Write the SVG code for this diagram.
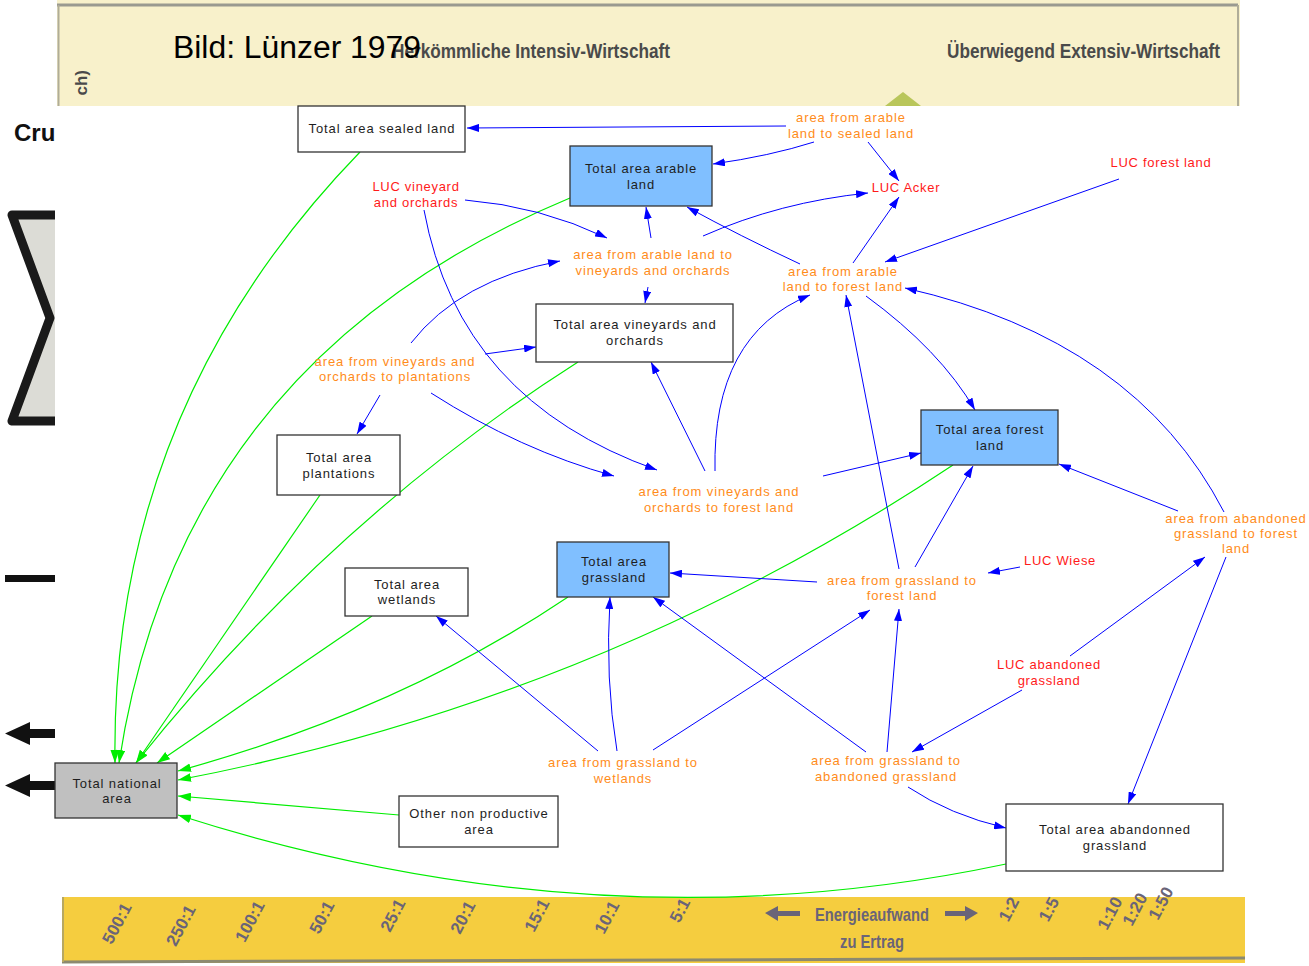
<svg xmlns="http://www.w3.org/2000/svg" width="1309" height="966" viewBox="0 0 1309 966">
<style>
.bx{stroke:#333;stroke-width:1.3}
.w{fill:#fff}.b{fill:#80bfff}.g{fill:#c0c0c0}
text{font-family:"Liberation Sans",Arial,sans-serif}
.nt{font-size:13px;fill:#1e1e1e;letter-spacing:0.9px;text-anchor:middle}
.ot{font-size:13px;fill:#ff8c1a;letter-spacing:0.9px;text-anchor:middle}
.rt{font-size:13px;fill:#ff1a1a;letter-spacing:0.7px;text-anchor:middle}
.eb{fill:none;stroke:#0000ff;stroke-width:1}
.eg{fill:none;stroke:#00ee00;stroke-width:1.2}
.bg{font-weight:bold;fill:#4a4a4a}
.ax{font-size:17px;font-weight:bold;fill:#6a6478;text-anchor:middle}
</style>
<defs>
<marker id="ab" viewBox="0 0 12 8" refX="12" refY="4" markerWidth="12" markerHeight="8" orient="auto" markerUnits="userSpaceOnUse"><path d="M0,0 L12,4 L0,8 z" fill="#0000ff"/></marker>
<marker id="ag" viewBox="0 0 12 8" refX="12" refY="4" markerWidth="13" markerHeight="9" orient="auto" markerUnits="userSpaceOnUse"><path d="M0,0 L12,4 L0,8 z" fill="#00ee00"/></marker>
</defs>
<rect x="0" y="0" width="1309" height="966" fill="#fff"/>
<g id="background">
<rect x="57" y="0" width="1183" height="106" fill="#f8f1cb"/>
<line x1="57" y1="5" x2="1238" y2="5" stroke="#9a9a90" stroke-width="3"/>
<line x1="58.5" y1="5" x2="58.5" y2="106" stroke="#b0ad98" stroke-width="2"/>
<line x1="1238" y1="5" x2="1238" y2="106" stroke="#b0ad98" stroke-width="2"/>
<polygon points="885,106 903,92 921,106" fill="#b9c65a"/>
<text x="392" y="58" font-size="20" class="bg" textLength="278" lengthAdjust="spacingAndGlyphs">Herkömmliche Intensiv-Wirtschaft</text>
<text x="947" y="58" font-size="20" class="bg" textLength="273" lengthAdjust="spacingAndGlyphs">Überwiegend Extensiv-Wirtschaft</text>
<text transform="translate(87,70) rotate(-90)" font-size="17" class="bg" text-anchor="end">ch)</text>
<text x="173" y="58" font-size="31" fill="#000" textLength="248" lengthAdjust="spacingAndGlyphs">Bild: Lünzer 1979</text>
<rect x="55" y="106" width="1254" height="791" fill="#fff"/>
<text x="14" y="141" font-size="24" font-weight="bold" fill="#111">Cru</text>
<path d="M55,215 L12,215 L50,318 L12,421 L55,421 Z" fill="#dcdcd6"/>
<path d="M55,215 L12,215 L50,318 L12,421 L55,421" fill="none" stroke="#1a1a1a" stroke-width="9" stroke-linejoin="round"/>
<rect x="5" y="575" width="50" height="7" fill="#111"/>
<path d="M55,729 L30,729 L30,722 L5,733.5 L30,745 L30,738 L55,738 Z" fill="#111"/>
<path d="M55,781 L30,781 L30,774 L5,785.5 L30,797 L30,790 L55,790 Z" fill="#111"/>
<rect x="62" y="897" width="1183" height="66" fill="#f5cd3f"/>
<line x1="62" y1="962" x2="1245" y2="958" stroke="#8c8a70" stroke-width="3"/>
<line x1="63" y1="897" x2="63" y2="962" stroke="#b8a860" stroke-width="2"/>
<g class="ax">
<text transform="translate(122,926) rotate(-62)">500:1</text>
<text transform="translate(186,928) rotate(-62)">250:1</text>
<text transform="translate(255,924) rotate(-62)">100:1</text>
<text transform="translate(327,920) rotate(-62)">50:1</text>
<text transform="translate(398,918) rotate(-62)">25:1</text>
<text transform="translate(468,920) rotate(-62)">20:1</text>
<text transform="translate(542,918) rotate(-62)">15:1</text>
<text transform="translate(612,920) rotate(-62)">10:1</text>
<text transform="translate(685,913) rotate(-62)">5:1</text>
<text transform="translate(1014,912) rotate(-62)">1:2</text>
<text transform="translate(1054,912) rotate(-62)">1:5</text>
<text transform="translate(1115,916) rotate(-62)">1:10</text>
<text transform="translate(1140,912) rotate(-62)">1:20</text>
<text transform="translate(1166,906) rotate(-62)">1:50</text>
</g>
<text x="815" y="921" font-size="19" class="bg" style="fill:#6a6478" textLength="114" lengthAdjust="spacingAndGlyphs">Energieaufwand</text>
<text x="840" y="948" font-size="19" class="bg" style="fill:#6a6478" textLength="64" lengthAdjust="spacingAndGlyphs">zu Ertrag</text>
<path d="M765,913 L778,906 L778,911 L800,911 L800,916 L778,916 L778,921 Z" fill="#6a6478"/>
<path d="M978,913 L965,906 L965,911 L945,911 L945,916 L965,916 L965,921 Z" fill="#6a6478"/>
</g>
<g id="connectors">
<path class="eg" marker-end="url(#ag)" d="M360,152 Q110,410 115,763"/>
<path class="eg" marker-end="url(#ag)" d="M570,198 Q180,360 119,763"/>
<path class="eg" marker-end="url(#ag)" d="M578,362 Q330,520 136,763"/>
<path class="eg" marker-end="url(#ag)" d="M320,495 L136,763"/>
<path class="eg" marker-end="url(#ag)" d="M372,616 L157,763"/>
<path class="eg" marker-end="url(#ag)" d="M568,597 Q400,710 178,771"/>
<path class="eg" marker-end="url(#ag)" d="M953,465 Q600,700 178,780"/>
<path class="eg" marker-end="url(#ag)" d="M399,815 L178,796"/>
<path class="eg" marker-end="url(#ag)" d="M1006,864 Q600,950 178,815"/>
<path class="eb" marker-end="url(#ab)" d="M786,126 L467,128"/>
<path class="eb" marker-end="url(#ab)" d="M814,142 Q770,156 713,164"/>
<path class="eb" marker-end="url(#ab)" d="M868,142 L899,181"/>
<path class="eb" marker-end="url(#ab)" d="M703,236 Q780,202 868,193"/>
<path class="eb" marker-end="url(#ab)" d="M651,238 L646,207"/>
<path class="eb" marker-end="url(#ab)" d="M800,264 Q740,236 687,207"/>
<path class="eb" marker-end="url(#ab)" d="M465,200 Q540,206 607,238"/>
<path class="eb" marker-end="url(#ab)" d="M424,210 Q459,400 657,470"/>
<path class="eb" marker-end="url(#ab)" d="M648,287 L645,303"/>
<path class="eb" marker-end="url(#ab)" d="M411,343 Q460,280 560,261"/>
<path class="eb" marker-end="url(#ab)" d="M485,354 L536,347"/>
<path class="eb" marker-end="url(#ab)" d="M380,395 L357,434"/>
<path class="eb" marker-end="url(#ab)" d="M431,393 Q520,450 614,476"/>
<path class="eb" marker-end="url(#ab)" d="M705,471 L651,362"/>
<path class="eb" marker-end="url(#ab)" d="M715,471 Q712,335 810,295"/>
<path class="eb" marker-end="url(#ab)" d="M823,476 L921,453"/>
<path class="eb" marker-end="url(#ab)" d="M853,263 L899,197"/>
<path class="eb" marker-end="url(#ab)" d="M1119,179 L885,262"/>
<path class="eb" marker-end="url(#ab)" d="M866,296 Q940,350 975,410"/>
<path class="eb" marker-end="url(#ab)" d="M899,569 L846,295"/>
<path class="eb" marker-end="url(#ab)" d="M1224,512 Q1135,340 905,288"/>
<path class="eb" marker-end="url(#ab)" d="M1178,511 L1059,464"/>
<path class="eb" marker-end="url(#ab)" d="M1226,557 L1128,804"/>
<path class="eb" marker-end="url(#ab)" d="M1070,656 L1205,557"/>
<path class="eb" marker-end="url(#ab)" d="M1022,690 L912,752"/>
<path class="eb" marker-end="url(#ab)" d="M1020,567 L988,573"/>
<path class="eb" marker-end="url(#ab)" d="M915,567 L973,466"/>
<path class="eb" marker-end="url(#ab)" d="M817,582 L670,573"/>
<path class="eb" marker-end="url(#ab)" d="M598,751 L436,616"/>
<path class="eb" marker-end="url(#ab)" d="M617,751 Q605,680 610,597"/>
<path class="eb" marker-end="url(#ab)" d="M653,750 L870,610"/>
<path class="eb" marker-end="url(#ab)" d="M866,752 L653,597"/>
<path class="eb" marker-end="url(#ab)" d="M887,752 L899,609"/>
<path class="eb" marker-end="url(#ab)" d="M908,787 Q950,815 1006,828"/>
</g>
<g id="n-sealed"><rect class="bx w" x="298" y="106" width="167" height="46"/><text class="nt" x="382" y="133">Total area sealed land</text></g>
<g id="n-arable"><rect class="bx b" x="570" y="146" width="142" height="60"/><text class="nt" x="641" y="173">Total area arable</text><text class="nt" x="641" y="189">land</text></g>
<g id="n-vineyards"><rect class="bx w" x="536" y="304" width="197" height="58"/><text class="nt" x="635" y="329">Total area vineyards and</text><text class="nt" x="635" y="345">orchards</text></g>
<g id="n-plantations"><rect class="bx w" x="277" y="435" width="123" height="60"/><text class="nt" x="339" y="462">Total area</text><text class="nt" x="339" y="478">plantations</text></g>
<g id="n-forest"><rect class="bx b" x="921" y="410" width="137" height="55"/><text class="nt" x="990" y="434">Total area forest</text><text class="nt" x="990" y="450">land</text></g>
<g id="n-grassland"><rect class="bx b" x="557" y="542" width="112" height="55"/><text class="nt" x="614" y="566">Total area</text><text class="nt" x="614" y="582">grassland</text></g>
<g id="n-wetlands"><rect class="bx w" x="345" y="568" width="123" height="48"/><text class="nt" x="407" y="589">Total area</text><text class="nt" x="407" y="604">wetlands</text></g>
<g id="n-national"><rect class="bx g" x="55" y="763" width="122" height="55"/><text class="nt" x="117" y="788">Total national</text><text class="nt" x="117" y="803">area</text></g>
<g id="n-other"><rect class="bx w" x="399" y="796" width="159" height="51"/><text class="nt" x="479" y="818">Other non productive</text><text class="nt" x="479" y="834">area</text></g>
<g id="n-abandonned"><rect class="bx w" x="1006" y="804" width="217" height="67"/><text class="nt" x="1115" y="834">Total area abandonned</text><text class="nt" x="1115" y="850">grassland</text></g>
<g id="l-arable-sealed"><text class="ot" x="851" y="122">area from arable</text><text class="ot" x="851" y="138">land to sealed land</text></g>
<g id="l-arable-vine"><text class="ot" x="653" y="259">area from arable land to</text><text class="ot" x="653" y="275">vineyards and orchards</text></g>
<g id="l-arable-forest"><text class="ot" x="843" y="276">area from arable</text><text class="ot" x="843" y="291">land to forest land</text></g>
<g id="l-vine-plant"><text class="ot" x="395" y="366">area from vineyards and</text><text class="ot" x="395" y="381">orchards to plantations</text></g>
<g id="l-vine-forest"><text class="ot" x="719" y="496">area from vineyards and</text><text class="ot" x="719" y="512">orchards to forest land</text></g>
<g id="l-grass-forest"><text class="ot" x="902" y="585">area from grassland to</text><text class="ot" x="902" y="600">forest land</text></g>
<g id="l-aband-forest"><text class="ot" x="1236" y="523">area from abandoned</text><text class="ot" x="1236" y="538">grassland to forest</text><text class="ot" x="1236" y="553">land</text></g>
<g id="l-grass-wet"><text class="ot" x="623" y="767">area from grassland to</text><text class="ot" x="623" y="783">wetlands</text></g>
<g id="l-grass-aband"><text class="ot" x="886" y="765">area from grassland to</text><text class="ot" x="886" y="781">abandoned grassland</text></g>
<g id="luc-vine"><text class="rt" x="416" y="191">LUC vineyard</text><text class="rt" x="416" y="207">and orchards</text></g>
<g id="luc-acker"><text class="rt" x="906" y="192">LUC Acker</text></g>
<g id="luc-forest"><text class="rt" x="1161" y="167">LUC forest land</text></g>
<g id="luc-wiese"><text class="rt" x="1060" y="565">LUC Wiese</text></g>
<g id="luc-aband"><text class="rt" x="1049" y="669">LUC abandoned</text><text class="rt" x="1049" y="685">grassland</text></g>
</svg>
